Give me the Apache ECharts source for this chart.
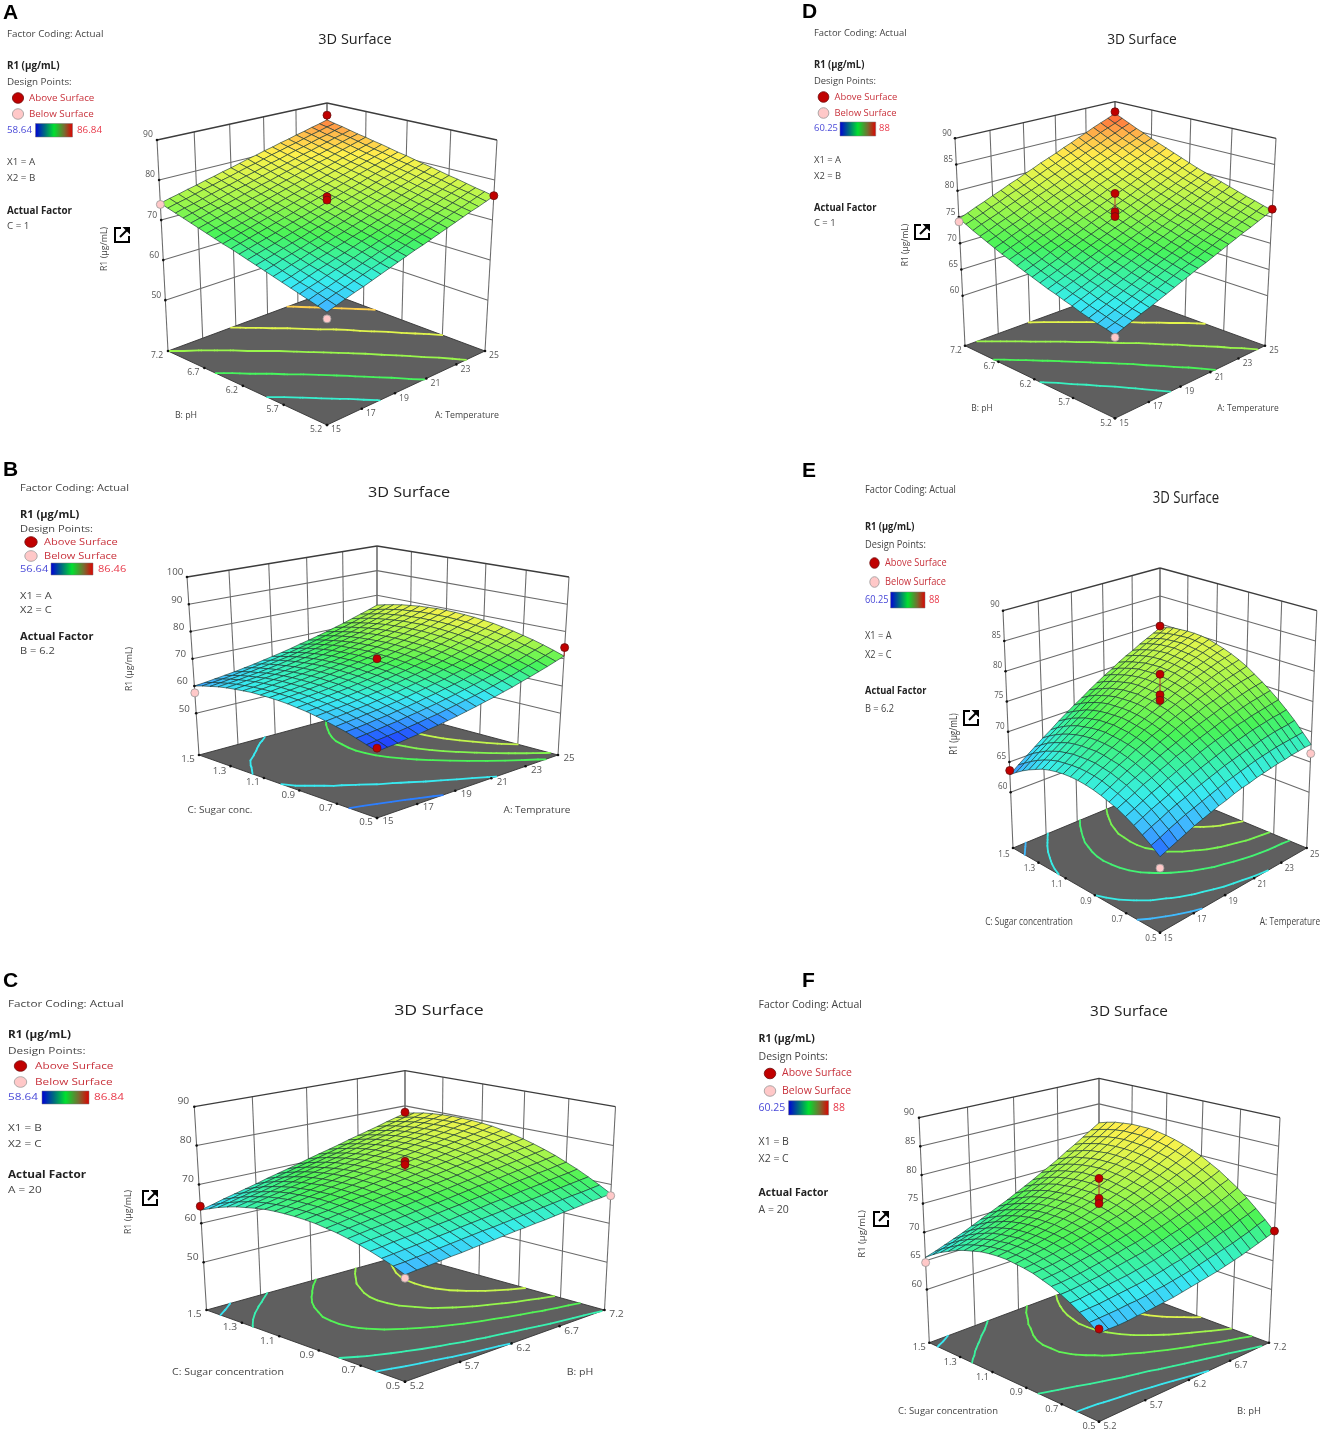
<!DOCTYPE html>
<html><head><meta charset="utf-8">
<style>html,body{margin:0;padding:0;background:#fff}#c{width:1325px;height:1438px}</style>
<script src="https://cdn.jsdelivr.net/npm/echarts@6/dist/echarts.min.js"></script></head>
<body><div id="c"></div><script>
// ---------- read values: response R1 (rows: X2 low→high, columns: X1 low→high)
const surfaceA=[
[62.3,63.0,63.7,64.4,65.0,65.7,66.4,67.1,67.8,68.5,69.2,69.8,70.5,71.2,71.9,72.6,73.3,74.0,74.6,75.3,76.0],
[62.9,63.6,64.3,64.9,65.6,66.3,67.0,67.6,68.3,69.0,69.7,70.4,71.0,71.7,72.4,73.1,73.8,74.4,75.1,75.8,76.5],
[63.5,64.2,64.8,65.5,66.2,66.8,67.5,68.2,68.9,69.5,70.2,70.9,71.6,72.2,72.9,73.6,74.2,74.9,75.6,76.3,76.9],
[64.1,64.8,65.4,66.1,66.8,67.4,68.1,68.8,69.4,70.1,70.7,71.4,72.1,72.7,73.4,74.1,74.7,75.4,76.1,76.7,77.4],
[64.7,65.3,66.0,66.7,67.3,68.0,68.6,69.3,70.0,70.6,71.3,71.9,72.6,73.2,73.9,74.6,75.2,75.9,76.5,77.2,77.9],
[65.3,65.9,66.6,67.2,67.9,68.5,69.2,69.8,70.5,71.1,71.8,72.5,73.1,73.8,74.4,75.1,75.7,76.4,77.0,77.7,78.3],
[65.9,66.5,67.2,67.8,68.5,69.1,69.7,70.4,71.0,71.7,72.3,73.0,73.6,74.3,74.9,75.6,76.2,76.8,77.5,78.1,78.8],
[66.5,67.1,67.8,68.4,69.0,69.7,70.3,71.0,71.6,72.2,72.9,73.5,74.1,74.8,75.4,76.1,76.7,77.3,78.0,78.6,79.3],
[67.1,67.7,68.3,69.0,69.6,70.2,70.9,71.5,72.1,72.8,73.4,74.0,74.7,75.3,75.9,76.6,77.2,77.8,78.5,79.1,79.7],
[67.7,68.3,68.9,69.5,70.2,70.8,71.4,72.0,72.7,73.3,73.9,74.6,75.2,75.8,76.4,77.1,77.7,78.3,78.9,79.6,80.2],
[68.3,68.9,69.5,70.1,70.7,71.4,72.0,72.6,73.2,73.8,74.5,75.1,75.7,76.3,76.9,77.6,78.2,78.8,79.4,80.0,80.7],
[68.9,69.5,70.1,70.7,71.3,71.9,72.5,73.1,73.8,74.4,75.0,75.6,76.2,76.8,77.4,78.1,78.7,79.3,79.9,80.5,81.1],
[69.4,70.0,70.7,71.3,71.9,72.5,73.1,73.7,74.3,74.9,75.5,76.1,76.7,77.3,77.9,78.5,79.2,79.8,80.4,81.0,81.6],
[70.0,70.6,71.2,71.8,72.4,73.0,73.6,74.2,74.8,75.4,76.0,76.6,77.2,77.8,78.4,79.0,79.6,80.2,80.8,81.4,82.1],
[70.6,71.2,71.8,72.4,73.0,73.6,74.2,74.8,75.4,76.0,76.6,77.2,77.8,78.4,78.9,79.5,80.1,80.7,81.3,81.9,82.5],
[71.2,71.8,72.4,73.0,73.6,74.2,74.8,75.3,75.9,76.5,77.1,77.7,78.3,78.9,79.5,80.0,80.6,81.2,81.8,82.4,83.0],
[71.8,72.4,73.0,73.6,74.1,74.7,75.3,75.9,76.5,77.0,77.6,78.2,78.8,79.4,80.0,80.5,81.1,81.7,82.3,82.9,83.4],
[72.4,73.0,73.6,74.1,74.7,75.3,75.9,76.4,77.0,77.6,78.2,78.7,79.3,79.9,80.5,81.0,81.6,82.2,82.8,83.3,83.9],
[73.0,73.6,74.1,74.7,75.3,75.9,76.4,77.0,77.6,78.1,78.7,79.3,79.8,80.4,81.0,81.5,82.1,82.7,83.2,83.8,84.4],
[73.6,74.2,74.7,75.3,75.9,76.4,77.0,77.5,78.1,78.7,79.2,79.8,80.4,80.9,81.5,82.0,82.6,83.2,83.7,84.3,84.8],
[74.2,74.8,75.3,75.9,76.4,77.0,77.5,78.1,78.6,79.2,79.8,80.3,80.9,81.4,82.0,82.5,83.1,83.6,84.2,84.7,85.3]];
const surfaceB=[
[56.4,56.8,57.1,57.6,58.0,58.6,59.1,59.7,60.3,61.0,61.7,62.5,63.2,64.1,64.9,65.9,66.8,67.8,68.8,69.9,71.0],
[57.6,58.0,58.4,58.8,59.3,59.8,60.4,60.9,61.6,62.3,63.0,63.7,64.5,65.3,66.2,67.1,68.1,69.1,70.1,71.2,72.3],
[58.7,59.1,59.5,60.0,60.4,61.0,61.5,62.1,62.7,63.4,64.1,64.9,65.7,66.5,67.4,68.3,69.3,70.2,71.3,72.4,73.5],
[59.8,60.1,60.5,61.0,61.4,62.0,62.5,63.1,63.8,64.4,65.2,65.9,66.7,67.6,68.4,69.4,70.3,71.3,72.4,73.4,74.6],
[60.6,61.0,61.4,61.9,62.3,62.9,63.4,64.0,64.7,65.4,66.1,66.8,67.7,68.5,69.4,70.3,71.3,72.3,73.3,74.4,75.5],
[61.4,61.8,62.2,62.7,63.1,63.7,64.2,64.8,65.5,66.2,66.9,67.7,68.5,69.3,70.2,71.1,72.1,73.1,74.2,75.3,76.4],
[62.1,62.5,62.9,63.3,63.8,64.4,64.9,65.5,66.2,66.9,67.6,68.4,69.2,70.0,70.9,71.9,72.8,73.8,74.9,76.0,77.1],
[62.7,63.0,63.5,63.9,64.4,64.9,65.5,66.1,66.8,67.5,68.2,69.0,69.8,70.6,71.6,72.5,73.5,74.5,75.5,76.6,77.8],
[63.1,63.5,63.9,64.4,64.9,65.4,66.0,66.6,67.3,68.0,68.7,69.5,70.3,71.2,72.1,73.0,74.0,75.0,76.0,77.1,78.3],
[63.5,63.9,64.3,64.7,65.2,65.8,66.4,67.0,67.6,68.3,69.1,69.9,70.7,71.6,72.5,73.4,74.4,75.4,76.5,77.6,78.7],
[63.7,64.1,64.5,65.0,65.5,66.0,66.6,67.2,67.9,68.6,69.4,70.1,71.0,71.8,72.7,73.7,74.7,75.7,76.8,77.9,79.0],
[63.8,64.2,64.6,65.1,65.6,66.2,66.8,67.4,68.1,68.8,69.5,70.3,71.1,72.0,72.9,73.9,74.9,75.9,77.0,78.1,79.2],
[63.8,64.2,64.7,65.1,65.6,66.2,66.8,67.4,68.1,68.8,69.6,70.4,71.2,72.1,73.0,73.9,74.9,76.0,77.0,78.1,79.3],
[63.8,64.1,64.6,65.1,65.6,66.1,66.7,67.4,68.0,68.7,69.5,70.3,71.1,72.0,72.9,73.9,74.9,75.9,77.0,78.1,79.3],
[63.5,63.9,64.4,64.9,65.4,65.9,66.5,67.2,67.9,68.6,69.3,70.1,71.0,71.8,72.8,73.7,74.7,75.8,76.8,78.0,79.1],
[63.2,63.6,64.1,64.6,65.1,65.6,66.2,66.9,67.6,68.3,69.1,69.9,70.7,71.6,72.5,73.5,74.5,75.5,76.6,77.7,78.9],
[62.8,63.2,63.7,64.1,64.7,65.2,65.8,66.5,67.2,67.9,68.7,69.5,70.3,71.2,72.1,73.1,74.1,75.1,76.2,77.4,78.5],
[62.3,62.7,63.1,63.6,64.1,64.7,65.3,66.0,66.7,67.4,68.2,69.0,69.8,70.7,71.6,72.6,73.6,74.7,75.8,76.9,78.1],
[61.6,62.0,62.5,63.0,63.5,64.1,64.7,65.4,66.0,66.8,67.6,68.4,69.2,70.1,71.0,72.0,73.0,74.1,75.2,76.3,77.5],
[60.9,61.3,61.7,62.2,62.8,63.4,64.0,64.6,65.3,66.0,66.8,67.6,68.5,69.4,70.3,71.3,72.3,73.4,74.4,75.6,76.8],
[60.0,60.4,60.9,61.4,61.9,62.5,63.1,63.8,64.5,65.2,66.0,66.9,67.7,68.6,69.5,70.5,71.5,72.6,73.7,74.8,76.0]];
const surfaceC=[
[62.3,62.6,62.8,63.1,63.4,63.6,63.9,64.2,64.4,64.7,65.0,65.2,65.5,65.7,66.0,66.3,66.5,66.8,67.1,67.3,67.6],
[63.5,63.7,64.0,64.3,64.6,64.9,65.2,65.5,65.8,66.0,66.3,66.6,66.9,67.2,67.5,67.8,68.1,68.4,68.6,68.9,69.2],
[64.5,64.8,65.1,65.4,65.7,66.0,66.3,66.7,67.0,67.3,67.6,67.9,68.2,68.5,68.8,69.1,69.5,69.8,70.1,70.4,70.7],
[65.4,65.7,66.1,66.4,66.7,67.1,67.4,67.7,68.1,68.4,68.7,69.1,69.4,69.7,70.1,70.4,70.7,71.1,71.4,71.7,72.1],
[66.2,66.6,66.9,67.3,67.6,68.0,68.3,68.7,69.1,69.4,69.8,70.1,70.5,70.8,71.2,71.6,71.9,72.3,72.6,73.0,73.3],
[66.9,67.3,67.7,68.0,68.4,68.8,69.2,69.6,69.9,70.3,70.7,71.1,71.5,71.8,72.2,72.6,73.0,73.4,73.7,74.1,74.5],
[67.5,67.9,68.3,68.7,69.1,69.5,69.9,70.3,70.7,71.1,71.5,71.9,72.3,72.7,73.1,73.5,73.9,74.3,74.7,75.1,75.5],
[67.9,68.3,68.8,69.2,69.6,70.1,70.5,70.9,71.3,71.8,72.2,72.6,73.0,73.5,73.9,74.3,74.7,75.2,75.6,76.0,76.4],
[68.3,68.7,69.2,69.6,70.1,70.5,71.0,71.4,71.9,72.3,72.8,73.2,73.6,74.1,74.5,75.0,75.4,75.9,76.3,76.8,77.2],
[68.5,69.0,69.4,69.9,70.4,70.9,71.3,71.8,72.3,72.7,73.2,73.7,74.2,74.6,75.1,75.6,76.0,76.5,77.0,77.5,77.9],
[68.6,69.1,69.6,70.1,70.6,71.1,71.6,72.1,72.6,73.1,73.6,74.0,74.5,75.0,75.5,76.0,76.5,77.0,77.5,78.0,78.5],
[68.6,69.1,69.6,70.2,70.7,71.2,71.7,72.2,72.7,73.3,73.8,74.3,74.8,75.3,75.9,76.4,76.9,77.4,77.9,78.4,79.0],
[68.5,69.0,69.6,70.1,70.6,71.2,71.7,72.3,72.8,73.4,73.9,74.4,75.0,75.5,76.1,76.6,77.1,77.7,78.2,78.8,79.3],
[68.3,68.8,69.4,69.9,70.5,71.1,71.6,72.2,72.8,73.3,73.9,74.5,75.0,75.6,76.2,76.7,77.3,77.8,78.4,79.0,79.5],
[67.9,68.5,69.1,69.7,70.2,70.8,71.4,72.0,72.6,73.2,73.8,74.4,74.9,75.5,76.1,76.7,77.3,77.9,78.5,79.1,79.6],
[67.4,68.1,68.7,69.3,69.9,70.5,71.1,71.7,72.3,72.9,73.5,74.2,74.8,75.4,76.0,76.6,77.2,77.8,78.4,79.0,79.6],
[66.9,67.5,68.1,68.8,69.4,70.0,70.7,71.3,71.9,72.6,73.2,73.8,74.5,75.1,75.7,76.4,77.0,77.6,78.3,78.9,79.5],
[66.2,66.8,67.5,68.1,68.8,69.5,70.1,70.8,71.4,72.1,72.7,73.4,74.1,74.7,75.4,76.0,76.7,77.3,78.0,78.6,79.3],
[65.4,66.0,66.7,67.4,68.1,68.8,69.4,70.1,70.8,71.5,72.2,72.8,73.5,74.2,74.9,75.5,76.2,76.9,77.6,78.3,79.0],
[64.4,65.1,65.8,66.5,67.2,68.0,68.7,69.4,70.1,70.8,71.5,72.2,72.9,73.6,74.3,75.0,75.7,76.4,77.1,77.8,78.5],
[63.4,64.1,64.9,65.6,66.3,67.0,67.8,68.5,69.2,69.9,70.7,71.4,72.1,72.8,73.6,74.3,75.0,75.7,76.5,77.2,77.9]];
const surfaceD=[
[64.6,65.2,65.8,66.4,66.9,67.5,68.1,68.7,69.3,69.9,70.5,71.0,71.6,72.2,72.8,73.4,74.0,74.5,75.1,75.7,76.3],
[65.0,65.5,66.1,66.7,67.3,67.9,68.5,69.1,69.7,70.3,70.8,71.4,72.0,72.6,73.2,73.8,74.4,75.0,75.5,76.1,76.7],
[65.3,65.9,66.5,67.1,67.7,68.3,68.9,69.5,70.1,70.7,71.3,71.8,72.4,73.0,73.6,74.2,74.8,75.4,76.0,76.6,77.2],
[65.7,66.3,66.9,67.5,68.1,68.7,69.3,69.9,70.5,71.1,71.7,72.3,72.9,73.5,74.0,74.6,75.2,75.8,76.4,77.0,77.6],
[66.1,66.7,67.3,67.9,68.5,69.1,69.7,70.3,70.9,71.5,72.1,72.7,73.3,73.9,74.5,75.1,75.7,76.3,76.9,77.5,78.1],
[66.6,67.2,67.8,68.4,69.0,69.6,70.2,70.8,71.4,72.0,72.6,73.2,73.8,74.4,75.0,75.6,76.2,76.8,77.4,78.0,78.6],
[67.0,67.6,68.2,68.8,69.4,70.0,70.6,71.2,71.8,72.4,73.0,73.6,74.2,74.8,75.4,76.0,76.6,77.3,77.9,78.5,79.1],
[67.5,68.1,68.7,69.3,69.9,70.5,71.1,71.7,72.3,72.9,73.5,74.1,74.7,75.3,76.0,76.5,77.2,77.8,78.4,79.0,79.6],
[67.9,68.5,69.1,69.7,70.4,71.0,71.6,72.2,72.8,73.4,74.0,74.6,75.2,75.8,76.4,77.1,77.7,78.3,78.9,79.5,80.1],
[68.4,69.0,69.6,70.2,70.8,71.5,72.1,72.7,73.3,73.9,74.5,75.1,75.7,76.4,77.0,77.6,78.2,78.8,79.4,80.0,80.6],
[68.9,69.5,70.1,70.7,71.4,72.0,72.6,73.2,73.8,74.4,75.1,75.7,76.3,76.9,77.5,78.1,78.7,79.4,80.0,80.6,81.2],
[69.4,70.0,70.6,71.3,71.9,72.5,73.1,73.7,74.4,75.0,75.6,76.2,76.8,77.4,78.1,78.7,79.3,79.9,80.5,81.2,81.8],
[69.9,70.6,71.2,71.8,72.4,73.0,73.7,74.3,74.9,75.5,76.2,76.8,77.4,78.0,78.6,79.3,79.9,80.5,81.1,81.7,82.4],
[70.5,71.1,71.7,72.4,73.0,73.6,74.2,74.8,75.5,76.1,76.7,77.3,78.0,78.6,79.2,79.8,80.5,81.1,81.7,82.3,83.0],
[71.0,71.7,72.3,72.9,73.5,74.2,74.8,75.4,76.1,76.7,77.3,77.9,78.6,79.2,79.8,80.4,81.1,81.7,82.3,83.0,83.6],
[71.6,72.2,72.9,73.5,74.1,74.8,75.4,76.0,76.7,77.3,77.9,78.5,79.2,79.8,80.4,81.1,81.7,82.3,83.0,83.6,84.2],
[72.2,72.8,73.5,74.1,74.7,75.4,76.0,76.6,77.3,77.9,78.5,79.2,79.8,80.4,81.1,81.7,82.3,83.0,83.6,84.2,84.9],
[72.8,73.4,74.1,74.7,75.3,76.0,76.6,77.3,77.9,78.5,79.2,79.8,80.4,81.1,81.7,82.3,83.0,83.6,84.2,84.9,85.5],
[73.4,74.1,74.7,75.3,76.0,76.6,77.3,77.9,78.5,79.2,79.8,80.5,81.1,81.7,82.4,83.0,83.6,84.3,84.9,85.6,86.2],
[74.1,74.7,75.3,76.0,76.6,77.3,77.9,78.5,79.2,79.8,80.5,81.1,81.8,82.4,83.0,83.7,84.3,85.0,85.6,86.2,86.9],
[74.7,75.3,76.0,76.6,77.3,77.9,78.6,79.2,79.9,80.5,81.2,81.8,82.4,83.1,83.7,84.4,85.0,85.7,86.3,86.9,87.6]];
const surfaceE=[
[62.1,62.6,63.1,63.6,64.1,64.5,64.9,65.3,65.6,66.0,66.3,66.5,66.8,67.0,67.2,67.4,67.5,67.7,67.8,67.9,67.9],
[63.1,63.6,64.2,64.7,65.2,65.6,66.0,66.4,66.8,67.2,67.5,67.8,68.1,68.4,68.6,68.8,69.0,69.1,69.2,69.3,69.4],
[64.0,64.6,65.1,65.7,66.2,66.6,67.1,67.5,67.9,68.3,68.7,69.0,69.3,69.6,69.8,70.1,70.3,70.5,70.6,70.7,70.9],
[64.8,65.4,66.0,66.5,67.0,67.6,68.0,68.5,68.9,69.3,69.7,70.1,70.4,70.7,71.0,71.3,71.5,71.7,71.9,72.0,72.2],
[65.5,66.1,66.7,67.3,67.8,68.4,68.9,69.4,69.8,70.3,70.7,71.1,71.4,71.8,72.1,72.3,72.6,72.8,73.0,73.2,73.4],
[66.1,66.7,67.3,68.0,68.5,69.1,69.6,70.2,70.6,71.1,71.5,71.9,72.3,72.7,73.0,73.3,73.6,73.9,74.1,74.3,74.5],
[66.5,67.2,67.9,68.5,69.1,69.7,70.3,70.8,71.3,71.8,72.3,72.7,73.1,73.5,73.9,74.2,74.5,74.8,75.1,75.3,75.5],
[66.9,67.6,68.3,69.0,69.6,70.2,70.8,71.4,71.9,72.5,73.0,73.4,73.8,74.3,74.6,75.0,75.4,75.7,76.0,76.2,76.4],
[67.2,68.0,68.7,69.4,70.0,70.7,71.3,71.9,72.4,73.0,73.5,74.0,74.4,74.9,75.3,75.7,76.1,76.4,76.7,77.0,77.3],
[67.4,68.2,68.9,69.6,70.3,71.0,71.6,72.3,72.8,73.4,74.0,74.5,75.0,75.4,75.9,76.3,76.7,77.1,77.4,77.7,78.0],
[67.5,68.3,69.1,69.8,70.5,71.2,71.9,72.5,73.1,73.7,74.3,74.8,75.4,75.9,76.3,76.8,77.2,77.6,78.0,78.3,78.6],
[67.5,68.3,69.1,69.9,70.6,71.3,72.0,72.7,73.3,74.0,74.6,75.2,75.7,76.2,76.7,77.2,77.6,78.0,78.4,78.8,79.1],
[67.4,68.2,69.0,69.8,70.6,71.4,72.1,72.8,73.4,74.1,74.7,75.3,75.9,76.4,77.0,77.4,77.9,78.4,78.8,79.2,79.5],
[67.2,68.0,68.9,69.7,70.5,71.3,72.0,72.7,73.4,74.1,74.8,75.4,76.0,76.6,77.1,77.6,78.1,78.6,79.0,79.5,79.9],
[66.9,67.8,68.6,69.5,70.3,71.1,71.9,72.6,73.3,74.0,74.7,75.4,76.0,76.6,77.2,77.7,78.2,78.7,79.2,79.7,80.1],
[66.5,67.4,68.3,69.2,70.0,70.8,71.6,72.4,73.2,73.9,74.6,75.3,75.9,76.5,77.1,77.7,78.3,78.8,79.3,79.8,80.2],
[65.9,66.9,67.8,68.7,69.6,70.5,71.3,72.1,72.9,73.6,74.3,75.0,75.7,76.4,77.0,77.6,78.2,78.7,79.2,79.7,80.2],
[65.3,66.3,67.3,68.2,69.1,70.0,70.8,71.7,72.5,73.2,74.0,74.7,75.4,76.1,76.7,77.4,78.0,78.6,79.1,79.6,80.1],
[64.6,65.6,66.6,67.6,68.5,69.4,70.3,71.1,72.0,72.8,73.5,74.3,75.0,75.7,76.4,77.1,77.7,78.3,78.9,79.4,80.0],
[63.8,64.8,65.9,66.8,67.8,68.7,69.6,70.5,71.4,72.2,73.0,73.8,74.6,75.3,76.0,76.7,77.3,78.0,78.5,79.1,79.7],
[62.9,64.0,65.0,66.0,67.0,67.9,68.9,69.8,70.7,71.5,72.4,73.2,74.0,74.7,75.5,76.2,76.8,77.5,78.1,78.7,79.3]];
const surfaceF=[
[64.3,64.4,64.4,64.5,64.7,64.8,65.0,65.2,65.4,65.7,66.0,66.3,66.6,66.9,67.3,67.7,68.1,68.6,69.1,69.6,70.1],
[65.4,65.5,65.6,65.7,65.9,66.0,66.2,66.5,66.7,67.0,67.3,67.6,68.0,68.4,68.8,69.2,69.6,70.1,70.6,71.2,71.7],
[66.4,66.5,66.6,66.8,67.0,67.2,67.4,67.6,67.9,68.2,68.6,68.9,69.3,69.7,70.1,70.6,71.1,71.5,72.1,72.6,73.2],
[67.3,67.4,67.6,67.8,68.0,68.2,68.4,68.7,69.0,69.3,69.7,70.1,70.5,70.9,71.4,71.8,72.3,72.9,73.4,74.0,74.6],
[68.1,68.2,68.4,68.6,68.8,69.1,69.4,69.7,70.0,70.3,70.7,71.1,71.6,72.0,72.5,73.0,73.5,74.0,74.6,75.2,75.9],
[68.8,68.9,69.1,69.3,69.6,69.9,70.2,70.5,70.9,71.2,71.6,72.1,72.5,73.0,73.5,74.0,74.6,75.1,75.7,76.4,77.0],
[69.3,69.5,69.7,70.0,70.3,70.6,70.9,71.2,71.6,72.0,72.4,72.9,73.4,73.9,74.4,75.0,75.5,76.1,76.8,77.4,78.1],
[69.8,70.0,70.2,70.5,70.8,71.1,71.5,71.9,72.3,72.7,73.1,73.6,74.1,74.6,75.2,75.8,76.4,77.0,77.6,78.3,79.0],
[70.1,70.3,70.6,70.9,71.3,71.6,72.0,72.4,72.8,73.3,73.7,74.2,74.8,75.3,75.9,76.5,77.1,77.8,78.4,79.1,79.9],
[70.3,70.6,70.9,71.2,71.6,72.0,72.4,72.8,73.2,73.7,74.2,74.7,75.3,75.9,76.5,77.1,77.7,78.4,79.1,79.8,80.6],
[70.5,70.7,71.1,71.4,71.8,72.2,72.6,73.1,73.5,74.0,74.6,75.1,75.7,76.3,76.9,77.6,78.2,78.9,79.7,80.4,81.2],
[70.5,70.8,71.1,71.5,71.9,72.3,72.8,73.3,73.8,74.3,74.8,75.4,76.0,76.6,77.3,78.0,78.7,79.4,80.1,80.9,81.7],
[70.4,70.7,71.1,71.5,71.9,72.4,72.8,73.3,73.9,74.4,75.0,75.6,76.2,76.9,77.5,78.2,78.9,79.7,80.5,81.3,82.1],
[70.2,70.5,70.9,71.3,71.8,72.3,72.8,73.3,73.8,74.4,75.0,75.6,76.3,76.9,77.7,78.4,79.1,79.9,80.7,81.5,82.4],
[69.8,70.2,70.7,71.1,71.6,72.1,72.6,73.2,73.7,74.3,74.9,75.6,76.3,76.9,77.7,78.4,79.2,80.0,80.8,81.7,82.6],
[69.4,69.8,70.3,70.8,71.2,71.8,72.3,72.9,73.5,74.1,74.7,75.4,76.1,76.9,77.6,78.4,79.2,80.0,80.9,81.7,82.6],
[68.9,69.3,69.8,70.3,70.8,71.4,71.9,72.5,73.1,73.8,74.5,75.2,75.9,76.6,77.4,78.2,79.0,79.9,80.8,81.7,82.6],
[68.2,68.7,69.2,69.7,70.2,70.8,71.4,72.0,72.7,73.4,74.1,74.8,75.6,76.3,77.1,77.9,78.8,79.7,80.6,81.5,82.4],
[67.5,67.9,68.5,69.0,69.6,70.2,70.8,71.5,72.1,72.8,73.6,74.3,75.1,75.9,76.7,77.6,78.4,79.3,80.2,81.2,82.2],
[66.6,67.1,67.6,68.2,68.8,69.4,70.1,70.8,71.5,72.2,73.0,73.7,74.5,75.3,76.2,77.0,77.9,78.9,79.8,80.8,81.8],
[65.6,66.1,66.7,67.3,67.9,68.6,69.3,70.0,70.7,71.4,72.2,73.0,73.8,74.7,75.5,76.4,77.4,78.3,79.3,80.3,81.3]];
// axis ticks
const tempTicks=[15,17,19,21,23,25];
const phTicks=[5.2,5.7,6.2,6.7,7.2];
const sugarTicks=[0.5,0.7,0.9,1.1,1.3,1.5];
const zTicks10=[50,60,70,80,90];
const zTicks10B=[50,60,70,80,90,100];
const zTicks5=[60,65,70,75,80,85,90];
// contour levels
const levelsA=[66.5,70.3,74.2,78.3,82.3], levelsB=[59.5,63.7,69.3,72,75.5], levelsC=[65,67.5,71,74,76.7];
const levelsD=[68.5,72,75.6,79.8,84], levelsE=[64.5,67.2,71,74,77.3], levelsF=[66.7,69.6,73,76,79.5];
// design points: [X1, X2, R1, above surface 1 / below 0]
const pointsA=[[15,7.2,73.9,0],[25,5.2,76.1,1],[25,7.2,86.6,1],[20,6.2,75.8,1],[20,6.2,75,1],[15,5.2,60.8,0]];
const pointsB=[[15,1.5,57.5,0],[25,0.5,74.1,1],[20,1,70,1],[15,0.5,57.5,1]];
const pointsC=[[5.2,1.5,64.4,1],[7.2,0.5,67.1,0],[7.2,1.5,78.2,1],[6.2,1,75.95,1],[6.2,1,75.1,1],[5.2,0.5,61.5,0]];
const pointsD=[[15,7.2,74.1,0],[25,5.2,76.5,1],[25,7.2,87.9,1],[20,6.2,79.5,1],[20,6.2,76,1],[20,6.2,75.1,1],[15,5.2,64.2,0]];
const pointsE=[[15,1.5,63.6,1],[25,0.5,66.4,0],[25,1.5,79.6,1],[20,1,79.5,1],[20,1,76.1,1],[20,1,75.2,1],[15,0.5,60.4,0]];
const pointsF=[[5.2,1.5,64.7,0],[7.2,0.5,70.2,1],[6.2,1,79.4,1],[6.2,1,75.9,1],[6.2,1,75,1],[5.2,0.5,65,1]];

// ---------- panel layout (page pixels of the box corners and text)
const panels=[
{id:'A',t:surfaceA,ut:tempTicks,vt:phTicks,zt:zTicks10,lv:levelsA,pts:pointsA,range:[58.64,86.84],rl:['58.64','86.84'],
 zf:37.3,ztop:90,F:[327,425],R:[485,351],L:[168,351],B:[327,292],FT:[327,187],RT:[497,140],LT:[157,140],BT:[327,103],
 uo:[9,5],vo:[-11,5],zo:[-9,-5],ut2:['A: Temperature',467,415],vt2:['B: pH',186,415],sx:1,fs:9.8,
 letter:[3,13],factor:[7,34],ly:[66,82,98,114,130,162,178,211,226],mx:18,tx:29,bar:[35.5,123.5,37,13.5],maxx:77,
 x1:'X1 = A',x2:'X2 = B',af:'C = 1',title:[355,40,1],ztitle:[104,249],icon:[122,235]},
{id:'B',t:surfaceB,ut:tempTicks,vt:sugarTicks,zt:zTicks10B,lv:levelsB,pts:pointsB,range:[56.64,86.46],rl:['56.64','86.46'],
 zf:34.7,ztop:100,F:[377,818],R:[558,755],L:[199,755],B:[377,706.7],FT:[377,618],RT:[569,577],LT:[187,577],BT:[377,546],
 uo:[11,4],vo:[-11,5],zo:[-12,-4],ut2:['A: Temprature',537,810],vt2:['C: Sugar conc.',220,810],sx:1.13,fs:9.8,
 letter:[3,470],factor:[20,488],ly:[515,529,542,556,569.5,596,610,637,651],mx:31,tx:44,bar:[51,563,42,12],maxx:98,
 x1:'X1 = A',x2:'X2 = C',af:'B = 6.2',title:[409,493,1.12],ztitle:[129,669],icon:null},
{id:'C',t:surfaceC,ut:phTicks,vt:sugarTicks,zt:zTicks10,lv:levelsC,pts:pointsC,range:[58.64,86.84],rl:['58.64','86.84'],
 zf:37.7,ztop:90,F:[405,1381.7],R:[604.5,1310],L:[206.5,1310],B:[405,1254.7],FT:[405,1154.3],RT:[615.5,1106.7],LT:[194.3,1106.7],BT:[405,1070.7],
 uo:[12,5],vo:[-12,5],zo:[-11,-5],ut2:['B: pH',580,1372],vt2:['C: Sugar concentration',228,1372],sx:1.2,fs:9.8,
 letter:[3,981],factor:[8,1004],ly:[1035,1051,1066,1082,1097,1128,1144,1175,1190],mx:20.5,tx:35,bar:[42,1091,47,13],maxx:94,
 x1:'X1 = B',x2:'X2 = C',af:'A = 20',title:[439,1011,1.22],ztitle:[128,1212],icon:[150,1198]},
{id:'D',t:surfaceD,ut:tempTicks,vt:phTicks,zt:zTicks5,lv:levelsD,pts:pointsD,range:[60.25,88],rl:['60.25','88'],
 zf:50.5,ztop:90,F:[1115,418.3],R:[1265,345.7],L:[965,345.7],B:[1115,291],FT:[1115,185],RT:[1276,138.3],LT:[955,138.3],BT:[1115,101.7],
 uo:[9,5],vo:[-9,5],zo:[-8,-5],ut2:['A: Temperature',1248,408],vt2:['B: pH',982,408],sx:.96,fs:9.8,
 letter:[802,12],factor:[814,33.5],ly:[65,81,97,113,128.5,160,176,208,223],mx:823.5,tx:834.5,bar:[840,122,35.7,14],maxx:879,
 x1:'X1 = A',x2:'X2 = B',af:'C = 1',title:[1142,40,.95],ztitle:[905,245],icon:[922,232]},
{id:'E',t:surfaceE,ut:tempTicks,vt:sugarTicks,zt:zTicks5,lv:levelsE,pts:pointsE,range:[60.25,88],rl:['60.25','88'],
 zf:50.8,ztop:90,F:[1160,932.7],R:[1306.7,848],L:[1013,848],B:[1160,787],FT:[1160,669],RT:[1316.8,610.7],LT:[1003,610.7],BT:[1160,568],
 uo:[8,6],vo:[-9,6],zo:[-8,-6],ut2:['A: Temperature',1290,922],vt2:['C: Sugar concentration',1029,922],sx:.84,fs:11,
 letter:[802,471],factor:[865,490],ly:[527,545,563,582,600,636,655,691,709],mx:874.5,tx:885,bar:[890.6,592,34.4,16],maxx:929,
 x1:'X1 = A',x2:'X2 = C',af:'B = 6.2',title:[1186,498,.82],ztitle:[954,734],icon:[971,718]},
{id:'F',t:surfaceF,ut:phTicks,vt:sugarTicks,zt:zTicks5,lv:levelsF,pts:pointsF,range:[60.25,88],rl:['60.25','88'],
 zf:50.7,ztop:90,F:[1099,1421.7],R:[1269,1342.7],L:[929.3,1342.7],B:[1099,1279.3],FT:[1099,1166.7],RT:[1280,1117.7],LT:[919,1117.7],BT:[1099,1078.3],
 uo:[11,5],vo:[-10,5],zo:[-10,-5],ut2:['B: pH',1249,1411],vt2:['C: Sugar concentration',948,1411],sx:1.03,fs:10.2,
 letter:[802,981],factor:[758.6,1005],ly:[1039.5,1057,1073.5,1091,1108,1142,1159.5,1193.5,1210],mx:770,tx:782,bar:[788.6,1100.7,40,14.3],maxx:833,
 x1:'X1 = B',x2:'X2 = C',af:'A = 20',title:[1129,1012,1.06],ztitle:[862,1234],icon:[881,1219]}
];

// ---------- helpers
const colorStops=[[0,[32,48,255]],[.08,[40,110,255]],[.15,[64,184,255]],[.24,[56,236,240]],[.32,[56,242,172]],[.42,[72,244,88]],[.55,[152,246,76]],[.68,[218,246,76]],[.78,[255,240,76]],[.88,[255,184,76]],[.97,[255,104,56]],[1,[255,72,40]]];
function colorOf(t){t=Math.max(0,Math.min(1,t));for(let k=1;k<colorStops.length;k++){if(t<=colorStops[k][0]){const a=colorStops[k-1],b=colorStops[k],f=(t-a[0])/(b[0]-a[0]);return 'rgb('+a[1].map((c,n)=>Math.round(c+(b[1][n]-c)*f)).join(',')+')';}}return 'rgb(255,72,40)';}
function homography(F,R,B,L){const dx1=R[0]-B[0],dx2=L[0]-B[0],sx=F[0]-R[0]+B[0]-L[0],dy1=R[1]-B[1],dy2=L[1]-B[1],sy=F[1]-R[1]+B[1]-L[1],den=dx1*dy2-dx2*dy1,
 g=(sx*dy2-dx2*sy)/den,h=(dx1*sy-sx*dy1)/den,a=R[0]-F[0]+g*R[0],b=L[0]-F[0]+h*L[0],d=R[1]-F[1]+g*R[1],e=L[1]-F[1]+h*L[1];
 return (u,v)=>{const w=g*u+h*v+1;return [(a*u+b*v+F[0])/w,(d*u+e*v+F[1])/w];};}
const SANS='"Open Sans"';
const series=[],xAxes=[],yAxes=[],grids=[],graphics=[];
function txt(text,x,y,font,fill,align,sx,rot){graphics.push({type:'text',x,y,scaleX:sx||1,rotation:rot||0,silent:true,style:{text,font,fill,align:align||'left',verticalAlign:'middle'}});}

panels.forEach((p,pi)=>{
 const fl=homography(p.F,p.R,p.B,p.L),tp=homography(p.FT,p.RT,p.BT,p.LT);
 const proj=(u,v,w)=>{const a=fl(u,v),b=tp(u,v);return [a[0]+(b[0]-a[0])*w,a[1]+(b[1]-a[1])*w];};
 const uN=x=>(x-p.ut[0])/(p.ut[p.ut.length-1]-p.ut[0]),vN=x=>(x-p.vt[0])/(p.vt[p.vt.length-1]-p.vt[0]),wN=z=>(z-p.zf)/(p.ztop-p.zf);
 const col=z=>colorOf((z-p.range[0])/(p.range[1]-p.range[0]));
 const xs=[p.L[0],p.R[0],p.LT[0],p.RT[0]],gl=Math.min(...xs),gw=Math.max(...xs)-gl,gt=p.BT[1],gh=p.F[1]-gt;
 grids.push({left:gl,top:gt,width:gw,height:gh,containLabel:false});
 xAxes.push({type:'value',gridIndex:pi,min:gl,max:gl+gw,show:false});
 yAxes.push({type:'value',gridIndex:pi,min:gt,max:gt+gh,inverse:true,show:false});
 const base={type:'custom',xAxisIndex:pi,yAxisIndex:pi,silent:true,animation:false,clip:false,progressive:0,tooltip:{show:false}};
 // walls: [u1,v1,w1,u2,v2,w2,dark]
 const wall=[];
 p.ut.forEach(x=>wall.push([uN(x),1,0,uN(x),1,1,0]));
 p.vt.forEach(x=>wall.push([1,vN(x),0,1,vN(x),1,0]));
 p.zt.forEach(z=>{const w=wN(z),d=z===p.ztop?1:0;wall.push([0,1,w,1,1,w,d],[1,1,w,1,0,w,d]);});
 series.push({...base,data:wall,renderItem:(_,api)=>{const a=proj(api.value(0),api.value(1),api.value(2)),b=proj(api.value(3),api.value(4),api.value(5)),A=api.coord(a),B=api.coord(b),d=api.value(6);
  return {type:'line',shape:{x1:A[0],y1:A[1],x2:B[0],y2:B[1]},style:{stroke:d?'#3c3c3c':'#6a6a6a',lineWidth:d?1.3:1.05}};}});
 // floor
 series.push({...base,data:[[0,0]],renderItem:(_,api)=>({type:'polygon',shape:{points:[[0,0],[1,0],[1,1],[0,1]].map(q=>api.coord(proj(q[0],q[1],0)))},style:{fill:'#5f5f5f',stroke:'#333',lineWidth:.9}})});
 // contours (marching squares over the table)
 const segs=[],n=p.t.length-1;
 p.lv.forEach(lv=>{for(let j=0;j<n;j++)for(let i=0;i<n;i++){
  const c=[[i,j,p.t[j][i]],[i+1,j,p.t[j][i+1]],[i+1,j+1,p.t[j+1][i+1]],[i,j+1,p.t[j+1][i]]],hit=[];
  for(let k=0;k<4;k++){const a=c[k],b=c[(k+1)%4];if((a[2]<lv)!==(b[2]<lv)){const f=(lv-a[2])/(b[2]-a[2]);hit.push([(a[0]+(b[0]-a[0])*f)/n,(a[1]+(b[1]-a[1])*f)/n]);}}
  if(hit.length>=2)segs.push([hit[0][0],hit[0][1],hit[1][0],hit[1][1],lv]);
  if(hit.length===4)segs.push([hit[2][0],hit[2][1],hit[3][0],hit[3][1],lv]);
 }});
 series.push({...base,data:segs,renderItem:(_,api)=>{const A=api.coord(proj(api.value(0),api.value(1),0)),B=api.coord(proj(api.value(2),api.value(3),0));
  return {type:'line',shape:{x1:A[0],y1:A[1],x2:B[0],y2:B[1]},style:{stroke:col(api.value(4)),lineWidth:1.8,lineCap:'round'}};}});
 // surface cells, painted back to front: [i,j,z00,z10,z11,z01]
 const cells=[];
 for(let s=2*n-2;s>=0;s--)for(let j=0;j<n;j++){const i=s-j;if(i<0||i>=n)continue;cells.push([i,j,p.t[j][i],p.t[j][i+1],p.t[j+1][i+1],p.t[j+1][i]]);}
 series.push({...base,data:cells,renderItem:(_,api)=>{const i=api.value(0),j=api.value(1),z=[api.value(2),api.value(3),api.value(4),api.value(5)],q=[[i,j],[i+1,j],[i+1,j+1],[i,j+1]];
  const pts=q.map((c,k)=>api.coord(proj(c[0]/n,c[1]/n,wN(z[k]))));
  return {type:'polygon',shape:{points:pts},style:{fill:col((z[0]+z[1]+z[2]+z[3])/4),stroke:'rgba(22,52,48,.78)',lineWidth:.8,lineJoin:'round'}};}});
 // tick dots and labels
 const labs=[];
 p.ut.forEach(x=>labs.push([uN(x),0,0,p.uo[0],p.uo[1],x]));
 p.vt.forEach(x=>labs.push([0,vN(x),0,p.vo[0],p.vo[1],x]));
 p.zt.forEach(z=>labs.push([0,1,wN(z),p.zo[0],p.zo[1],z]));
 series.push({...base,data:labs,renderItem:(_,api)=>{const P=api.coord(proj(api.value(0),api.value(1),api.value(2)));
  return {type:'group',children:[
   {type:'circle',shape:{cx:P[0],cy:P[1],r:1.3},style:{fill:'#111'}},
   {type:'text',x:P[0]+api.value(3),y:P[1]+api.value(4),scaleX:p.sx,style:{legacy:false,text:String(api.value(5)),font:(p.fs*.88)+'px '+SANS,fill:'#555',align:'center',verticalAlign:'middle'}}]};}});
 // design points
 const nearest=(a,b)=>{const j=Math.round(vN(b)*n),i=Math.round(uN(a)*n);return p.t[j][i];};
 series.push({...base,data:p.pts.map(d=>[uN(d[0]),vN(d[1]),wN(d[2]),d[3],wN(nearest(d[0],d[1]))]),renderItem:(_,api)=>{
  const u=api.value(0),v=api.value(1),P=api.coord(proj(u,v,api.value(2))),S=api.coord(proj(u,v,api.value(4))),ab=api.value(3);
  const kids=[];
  if(ab)kids.push({type:'line',shape:{x1:P[0],y1:P[1],x2:S[0],y2:S[1]},style:{stroke:'#b03030',lineWidth:1}});
  kids.push({type:'circle',shape:{cx:P[0],cy:P[1],r:4},style:{fill:ab?'#c00000':'#ffc8c8',stroke:ab?'#6a1010':'#999',lineWidth:.8}});
  return {type:'group',children:kids};}});
 // axis titles
 const tfont=(p.fs*.9)+'px '+SANS;
 txt(p.ut2[0],p.ut2[1],p.ut2[2],tfont,'#444','center',p.sx);
 txt(p.vt2[0],p.vt2[1],p.vt2[2],tfont,'#444','center',p.sx);
 // side legend
 const f=p.fs+'px '+SANS,fb='bold '+p.fs+'px '+SANS,y=p.ly,gray='#444',red='#c8323c';
 graphics.push({type:'text',x:p.letter[0],y:p.letter[1],silent:true,style:{text:p.id,font:'bold 21px "Liberation Sans"',fill:'#000',align:'left',verticalAlign:'middle'}});
 txt('Factor Coding: Actual',p.factor[0],p.factor[1],f,gray,'left',p.sx);
 const lx=p.factor[0];
 txt('R1 (µg/mL)',lx,y[0],fb,'#222','left',p.sx);
 txt('Design Points:',lx,y[1],f,gray,'left',p.sx);
 graphics.push({type:'ellipse',silent:true,shape:{cx:p.mx,cy:y[2],rx:5.6*Math.min(1.1,p.sx),ry:5.3},style:{fill:'#c00000',stroke:'#701010',lineWidth:.8}});
 graphics.push({type:'ellipse',silent:true,shape:{cx:p.mx,cy:y[3],rx:5.6*Math.min(1.1,p.sx),ry:5.3},style:{fill:'#ffc8c8',stroke:'#999',lineWidth:.8}});
 txt('Above Surface',p.tx,y[2],f,red,'left',p.sx);
 txt('Below Surface',p.tx,y[3],f,red,'left',p.sx);
 txt(p.rl[0],lx,y[4],f,'#4a4ad8','left',p.sx);
 txt(p.rl[1],p.maxx,y[4],f,'#e8394a','left',p.sx);
 graphics.push({type:'rect',silent:true,shape:{x:p.bar[0],y:p.bar[1],width:p.bar[2],height:p.bar[3]},style:{stroke:'#777',lineWidth:.5,fill:{type:'linear',x:0,y:0,x2:1,y2:0,colorStops:[{offset:0,color:'#0000d8'},{offset:.25,color:'#006a80'},{offset:.5,color:'#00e030'},{offset:.78,color:'#7a6a30'},{offset:1,color:'#e00000'}]}}});
 txt(p.x1,lx,y[5],f,gray,'left',p.sx);
 txt(p.x2,lx,y[6],f,gray,'left',p.sx);
 txt('Actual Factor',lx,y[7],fb,'#222','left',p.sx);
 txt(p.af,lx,y[8],f,gray,'left',p.sx);
 txt('3D Surface',p.title[0],p.title[1],(p.id==='E'?16:14.5)+'px '+SANS,'#222','center',p.title[2]);
 graphics.push({type:'text',x:p.ztitle[0],y:p.ztitle[1],rotation:Math.PI/2,silent:true,scaleX:p.sx>1.1?1:p.sx,style:{text:'R1 (µg/mL)',font:(p.fs*.9)+'px '+SANS,fill:'#444',align:'center',verticalAlign:'middle'}});
 if(p.icon){const c=p.icon,x0=c[0]-8,y0=c[1]-8;
  graphics.push({type:'polyline',silent:true,shape:{points:[[x0+7,y0+1],[x0+1,y0+1],[x0+1,y0+15],[x0+15,y0+15],[x0+15,y0+9]]},style:{stroke:'#000',lineWidth:2,fill:null}});
  graphics.push({type:'line',silent:true,shape:{x1:x0+6,y1:y0+10,x2:x0+13,y2:y0+3},style:{stroke:'#000',lineWidth:2}});
  graphics.push({type:'polygon',silent:true,shape:{points:[[x0+8.5,y0],[x0+16,y0],[x0+16,y0+7.5]]},style:{fill:'#000'}});}
});

const chart=echarts.init(document.getElementById('c'),null,{renderer:'canvas',width:1325,height:1438});
chart.setOption({animation:false,backgroundColor:'#fff',grid:grids,xAxis:xAxes,yAxis:yAxes,series,graphic:{elements:graphics}});
</script></body></html>
